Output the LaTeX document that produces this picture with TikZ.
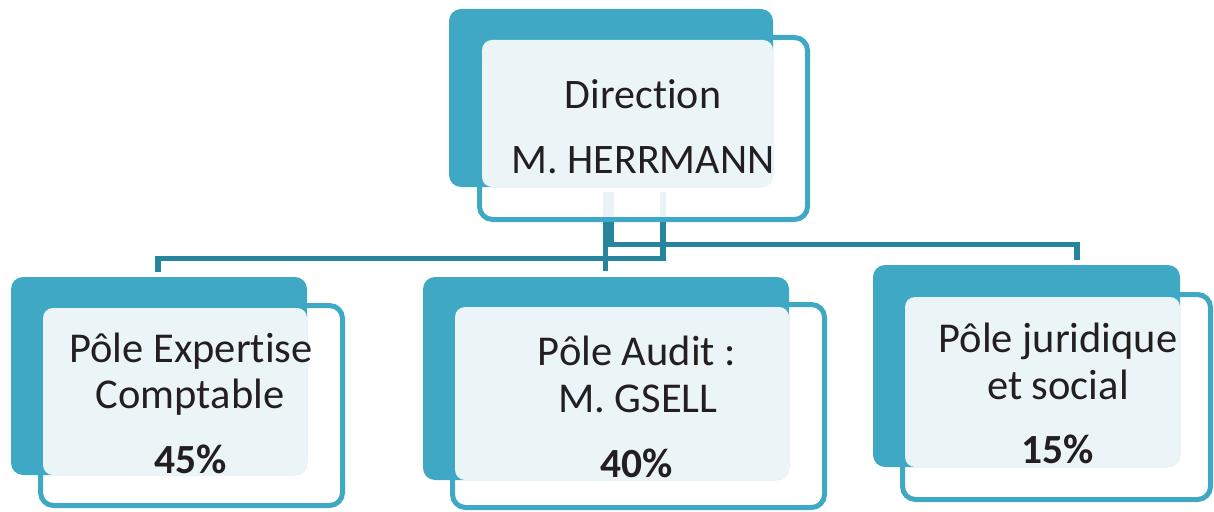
\documentclass[tikz,border=0pt]{standalone}
\usepackage{fontspec}
\setmainfont{Carlito}[Ligatures=NoCommon]
\definecolor{tealA}{RGB}{63,169,197}
\definecolor{tealD}{RGB}{38,132,156}
\definecolor{lightF}{RGB}{235,245,248}
\definecolor{txtC}{RGB}{35,31,32}
\begin{document}
\begin{tikzpicture}[x=1pt,y=-1pt,
  backbox/.style={fill=tealA, rounded corners=12pt},
  frontbox/.style={draw=tealA, line width=5pt, fill=white, fill opacity=0.9, draw opacity=1, rounded corners=13pt},
  lightbox/.style={fill=lightF, rounded corners=10pt},
  conn/.style={draw=tealD, line width=5.5pt, line cap=butt, line join=miter},
  lbl/.style={text=txtC, inner sep=0pt, anchor=base},
  fdir/.style={font=\fontsize{42}{50}\selectfont},
  fsub/.style={font=\fontsize{42.5}{50}\selectfont},
  fpct/.style={font=\fontsize{41.5}{49}\selectfont\bfseries}]
\useasboundingbox (0,0) rectangle (1214,511);

% connector anchors
\coordinate (dirA) at (663,192);
\coordinate (dirB) at (605.5,192);
\coordinate (dirC) at (611,192);
\coordinate (expT) at (158,272);
\coordinate (audT) at (605.5,271);
\coordinate (jurT) at (1077,260);

% connectors
\draw[conn] (dirA) |- (expT |- 0,258.5) -- (expT);
\draw[conn] (dirB) -- (audT);
\draw[conn] (dirC) |- (jurT |- 0,244.5) -- (jurT);

% top unit
\path[frontbox] (479.5,37.5) rectangle (807.5,219.5);
\path[backbox] (449,9) rectangle (773,187);
\path[lightbox] (482,40) rectangle (773,187);
\node[lbl,fdir] (dir1) at (643,108) {Direction};
\node[lbl,fdir] (dir2) at (643,173) {M. HERRMANN};

% left unit
\path[frontbox] (40.5,305.5) rectangle (342.5,505.5);
\path[backbox] (11,277) rectangle (307,475);
\path[lightbox] (43,308) rectangle (307,475);
\node[lbl,fsub] (exp1) at (191,362) {Pôle Expertise};
\node[lbl,fsub] (exp2) at (190,408) {Comptable};
\node[lbl,fpct] (exp3) at (191,473) {45\%};

% middle unit
\path[frontbox] (452.5,304.5) rectangle (824.5,507.5);
\path[backbox] (423,277) rectangle (789,480);
\path[lightbox] (455,307) rectangle (789,480);
\node[lbl,fsub] (aud1) at (637,365) {Pôle Audit :};
\node[lbl,fsub] (aud2) at (638,412) {M. GSELL};
\node[lbl,fpct] (aud3) at (637,477) {40\%};

% right unit
\path[frontbox] (902.5,294.5) rectangle (1210.5,499.5);
\path[backbox] (873,265) rectangle (1180,467);
\path[lightbox] (905,297) rectangle (1180,467);
\node[lbl,fsub] (jur1) at (1058,352) {Pôle juridique};
\node[lbl,fsub] (jur2) at (1058,399) {et social};
\node[lbl,fpct] (jur3) at (1058,463) {15\%};
\end{tikzpicture}
\end{document}
